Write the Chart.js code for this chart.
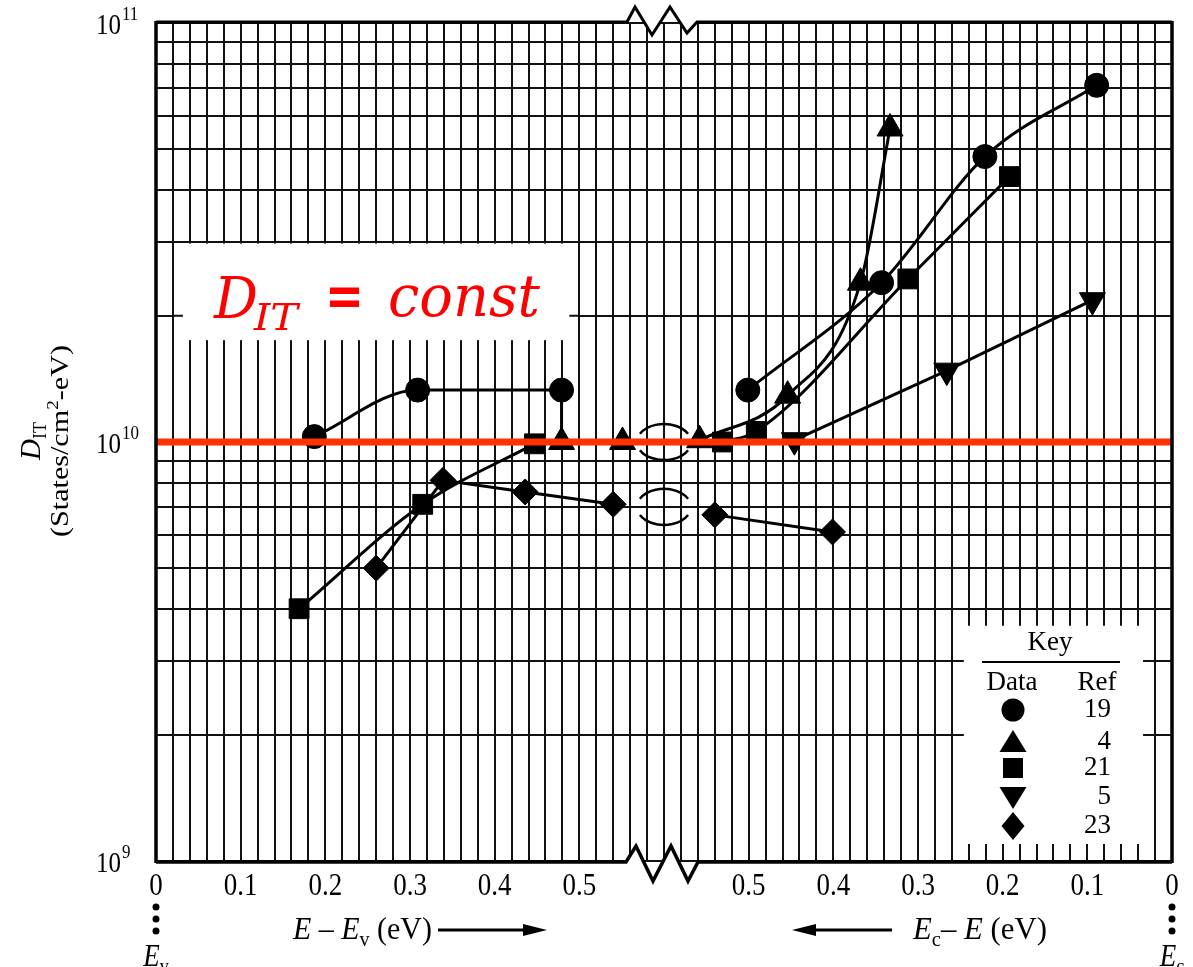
<!DOCTYPE html>
<html>
<head>
<meta charset="utf-8">
<script src="https://cdn.jsdelivr.net/npm/chart.js@4.4.0/dist/chart.umd.min.js"></script>
<style>
  html, body { margin: 0; padding: 0; background: #fff; }
  #wrap { width: 1193px; height: 967px; }
</style>
</head>
<body>
<div id="wrap"><canvas id="ditChart" width="1193" height="967"></canvas></div>
<script>
// x runs 0 -> 1.2 across the plot: left half reads E - Ev, right half reads Ec - E = 1.2 - x
const X_MAX = 1.2;

// Ref 19 (circles)
const ref19X = [0.187, 0.309, 0.479, 0.60, 0.699, 0.857, 0.979, 1.111];
const ref19Y = [1.03e10, 1.33e10, 1.33e10, null, 1.33e10, 2.4e10, 4.8e10, 7.1e10];
// Ref 4 (triangles)
const ref4X = [0.479, 0.551, 0.60, 0.642, 0.746, 0.832, 0.867];
const ref4Y = [1.0e10, 1.0e10, null, 1.01e10, 1.29e10, 2.4e10, 5.6e10];
// Ref 21 (squares)
const ref21X = [0.169, 0.315, 0.447, 0.60, 0.669, 0.709, 0.888, 1.008];
const ref21Y = [4.0e9, 7.1e9, 9.9e9, null, 1.0e10, 1.06e10, 2.45e10, 4.3e10];
// Ref 5 (down triangles)
const ref5X = [0.754, 0.934, 1.106];
const ref5Y = [1.01e10, 1.48e10, 2.18e10];
// Ref 23 (diamonds)
const ref23X = [0.260, 0.339, 0.436, 0.540, 0.60, 0.660, 0.799];
const ref23Y = [5.0e9, 8.1e9, 7.6e9, 7.1e9, null, 6.7e9, 6.1e9];
// short drop from the circle at 0.48 to the triangle below it
const dropX = [0.479, 0.479];
const dropY = [1.33e10, 1.0e10];
// D_IT = const line
const constX = [0, X_MAX];
const constY = [1e10, 1e10];

const leftTickLabels = ['0', '0.1', '0.2', '0.3', '0.4', '0.5'];
const rightTickLabels = ['0.5', '0.4', '0.3', '0.2', '0.1', '0'];
const yTickValues = [1e9, 1e10, 1e11];
const yTickExp = ['9', '10', '11'];
const keyStyles = ['circle', 'triangle', 'rect', 'triangleDown', 'rectRot'];
const keyRefs = ['19', '4', '21', '5', '23'];

const xGridValues = [];
for (let i = 0; i <= 60; i++) xGridValues.push(Math.round(i * 2) / 100);
const yGridValues = [];
[1e9, 1e10].forEach(d => { for (let k = 1; k <= 9; k++) yGridValues.push(k * d); });
yGridValues.push(1e11);

const SERIF = '"Liberation Serif", "Times New Roman", serif';
const SY = 1.15; // scanned figure is a bit taller than wide

function series(xs, ys, style, radius, extra) {
    return Object.assign({
        data: xs.map((x, i) => ({ x: x, y: ys[i] })),
        borderColor: '#000',
        backgroundColor: '#000',
        borderWidth: 3,
        pointStyle: style,
        pointRadius: radius,
        pointBorderWidth: 1,
        cubicInterpolationMode: 'monotone',
        order: 2
    }, extra || {});
}

// draws a run of text pieces, optionally squeezed to a width
function runText(ctx, parts, x, y, opts) {
    opts = opts || {};
    ctx.save();
    let w = 0;
    parts.forEach(p => { ctx.font = p.f; w += ctx.measureText(p.t).width; });
    const sx = opts.width ? opts.width / w : 1;
    ctx.translate(x, y);
    if (opts.rotate) ctx.rotate(opts.rotate);
    ctx.scale(sx, opts.sy || 1);
    let cx = opts.center ? -w / 2 : 0;
    ctx.textAlign = 'left';
    ctx.textBaseline = 'alphabetic';
    ctx.fillStyle = opts.color || '#000';
    parts.forEach(p => {
        ctx.font = p.f;
        ctx.fillText(p.t, cx, p.dy || 0);
        cx += ctx.measureText(p.t).width;
    });
    ctx.restore();
}

function txt(ctx, s, x, y, font, align, sy) {
    ctx.save();
    ctx.font = font;
    ctx.fillStyle = '#000';
    ctx.textAlign = align || 'center';
    ctx.textBaseline = 'middle';
    ctx.translate(x, y);
    ctx.scale(1, sy || 1);
    ctx.fillText(s, 0, 0);
    ctx.restore();
}

function keyMarker(ctx, style, x, y) {
    ctx.beginPath();
    if (style === 'circle') {
        ctx.arc(x, y, 11.5, 0, Math.PI * 2);
    } else if (style === 'triangle') {
        ctx.moveTo(x, y - 12); ctx.lineTo(x + 13.5, y + 10); ctx.lineTo(x - 13.5, y + 10);
    } else if (style === 'rect') {
        ctx.rect(x - 10, y - 10, 20, 20);
    } else if (style === 'triangleDown') {
        ctx.moveTo(x, y + 12); ctx.lineTo(x + 13.5, y - 10); ctx.lineTo(x - 13.5, y - 10);
    } else {
        ctx.moveTo(x, y - 14); ctx.lineTo(x + 11.5, y); ctx.lineTo(x, y + 14); ctx.lineTo(x - 11.5, y);
    }
    ctx.closePath();
    ctx.fill();
}

function arrow(ctx, x1, x2, y) {
    const dir = Math.sign(x2 - x1);
    ctx.lineWidth = 3;
    ctx.beginPath();
    ctx.moveTo(x1, y); ctx.lineTo(x2 - dir * 18, y);
    ctx.stroke();
    ctx.beginPath();
    ctx.moveTo(x2, y); ctx.lineTo(x2 - dir * 24, y - 6); ctx.lineTo(x2 - dir * 24, y + 6);
    ctx.closePath();
    ctx.fill();
}

const boxesPlugin = {
    id: 'boxes',
    beforeDatasetsDraw(chart) {
        const ctx = chart.ctx, xs = chart.scales.x, ys = chart.scales.y;
        ctx.save();
        ctx.fillStyle = '#fff';
        ctx.strokeStyle = '#111';
        ctx.lineWidth = 2;

        // blank panel behind the D_IT = const note
        let x1 = xs.getPixelForValue(0.02), x2 = xs.getPixelForValue(0.5);
        let y1 = ys.getPixelForValue(3e10), y2 = ys.getPixelForValue(1.75e10);
        ctx.fillRect(x1 + 1.5, y1 + 1.5, x2 - x1 - 3, y2 - y1 - 1.5);
        let ys2 = ys.getPixelForValue(2e10);
        ctx.beginPath();
        ctx.moveTo(x1, ys2); ctx.lineTo(x1 + 10, ys2);
        ctx.moveTo(x2 - 10, ys2); ctx.lineTo(x2, ys2);
        ctx.stroke();

        // key panel
        x1 = xs.getPixelForValue(0.94); x2 = xs.getPixelForValue(1.18);
        y1 = ys.getPixelForValue(4e9); y2 = ys.getPixelForValue(1e9);
        ctx.fillRect(x1 + 1.5, y1 + 1.5, x2 - x1 - 3, y2 - y1 - 3);
        ctx.beginPath();
        xGridValues.filter(v => v > 0.941 && v < 1.179).forEach(v => {
            const px = Math.round(xs.getPixelForValue(v));
            ctx.moveTo(px, y1); ctx.lineTo(px, y1 + 17);
            ctx.moveTo(px, y2 - 17); ctx.lineTo(px, y2);
        });
        [3e9, 2e9].forEach(v => {
            const py = Math.round(ys.getPixelForValue(v));
            ctx.moveTo(x1, py); ctx.lineTo(x1 + 12, py);
            ctx.moveTo(x2 - 12, py); ctx.lineTo(x2, py);
        });
        ctx.stroke();

        ctx.fillStyle = '#000';
        const kf = '27px ' + SERIF;
        txt(ctx, 'Key', 1050, 643, kf, 'center', 1.05);
        ctx.lineWidth = 2;
        ctx.strokeStyle = '#000';
        ctx.beginPath(); ctx.moveTo(982, 662); ctx.lineTo(1120, 662); ctx.stroke();
        txt(ctx, 'Data', 1012, 683, kf, 'center', 1.05);
        txt(ctx, 'Ref', 1097, 683, kf, 'center', 1.05);
        const keyY = [710, 742, 768, 797, 826];
        keyStyles.forEach((s, i) => {
            keyMarker(ctx, s, 1013, keyY[i]);
            txt(ctx, keyRefs[i], 1111, keyY[i], kf, 'right', 1.05);
        });

        // red note
        const red = '#ff0000';
        const it = 'italic 58px "DejaVu Serif", serif';
        runText(ctx, [{ t: 'D', f: it }], 214, 318, { width: 44, color: red });
        runText(ctx, [{ t: 'IT', f: 'italic 38px "DejaVu Serif", serif' }], 254, 330, { width: 44, color: red });
        runText(ctx, [{ t: '=', f: 'bold 58px "DejaVu Serif", serif' }], 325, 316, { width: 39, color: red });
        runText(ctx, [{ t: 'const', f: it }], 388, 316, { width: 152, color: red });
        ctx.restore();
    },
    afterDatasetsDraw(chart) {
        const ctx = chart.ctx, xs = chart.scales.x, ys = chart.scales.y;
        const a = chart.chartArea;
        ctx.save();
        ctx.strokeStyle = '#000';
        ctx.fillStyle = '#000';

        // broken-connection arcs in the gap
        ctx.lineWidth = 2.5;
        const cx = xs.getPixelForValue(0.6);
        [1.0e10, 7.0e9].forEach(v => {
            const cy = ys.getPixelForValue(v);
            ctx.beginPath();
            ctx.ellipse(cx, cy, 27, 18, 0, Math.PI * 1.15, Math.PI * 1.85);
            ctx.stroke();
            ctx.beginPath();
            ctx.ellipse(cx, cy, 27, 18, 0, Math.PI * 0.15, Math.PI * 0.85);
            ctx.stroke();
        });

        // frame with axis breaks
        const L = a.left, R = a.right, T = a.top - 1, B = a.bottom + 1;
        const topZig = [[627, T], [635, T - 15], [652, T + 13], [670, T - 15], [687, T + 11], [697, T]];
        const botZig = [[626, B], [636, B - 16], [653, B + 19], [671, B - 16], [688, B + 19], [698, B]];
        ctx.fillStyle = '#fff';
        ctx.beginPath();
        ctx.moveTo(627, 0);
        topZig.forEach(p => ctx.lineTo(p[0], p[1]));
        ctx.lineTo(697, 0);
        ctx.closePath();
        ctx.fill();
        ctx.beginPath();
        ctx.moveTo(626, B + 40);
        botZig.forEach(p => ctx.lineTo(p[0], p[1]));
        ctx.lineTo(698, B + 40);
        ctx.closePath();
        ctx.fill();

        ctx.lineJoin = 'miter';
        ctx.lineWidth = 3;
        ctx.beginPath();
        ctx.moveTo(L, T);
        topZig.forEach(p => ctx.lineTo(p[0], p[1]));
        ctx.lineTo(R, T);
        ctx.stroke();
        ctx.lineWidth = 3.5;
        ctx.beginPath();
        ctx.moveTo(L, B);
        botZig.forEach(p => ctx.lineTo(p[0], p[1]));
        ctx.lineTo(R, B);
        ctx.stroke();
        ctx.beginPath();
        ctx.moveTo(L, T - 1); ctx.lineTo(L, B + 1);
        ctx.moveTo(R, T - 1); ctx.lineTo(R, B + 1);
        ctx.stroke();

        // y tick labels 10^n
        ctx.fillStyle = '#000';
        yTickValues.forEach((v, i) => {
            const py = ys.getPixelForValue(v);
            ctx.font = '25px ' + SERIF;
            const w = ctx.measureText('10').width;
            txt(ctx, '10', 96, py + 3, '25px ' + SERIF, 'left', SY);
            txt(ctx, yTickExp[i], 97 + w, py - 8, '17px ' + SERIF, 'left', SY);
        });

        // x tick labels
        const tf = '27px ' + SERIF;
        leftTickLabels.forEach(l => txt(ctx, l, xs.getPixelForValue(parseFloat(l)), 887, tf, 'center', SY));
        rightTickLabels.forEach(l => txt(ctx, l, xs.getPixelForValue(X_MAX - parseFloat(l)), 887, tf, 'center', SY));

        // band edge markers
        [L, R].forEach(px => {
            [907, 919, 931].forEach(py => {
                ctx.beginPath(); ctx.arc(px, py, 3.5, 0, Math.PI * 2); ctx.fill();
            });
        });
        const itf = 'italic 27px ' + SERIF, rf = '27px ' + SERIF, sf = '18px ' + SERIF;
        runText(ctx, [{ t: 'E', f: itf }, { t: 'v', f: sf, dy: 6 }], L, 966, { center: true, sy: SY });
        runText(ctx, [{ t: 'E', f: itf }, { t: 'c', f: sf, dy: 6 }], R, 966, { center: true, sy: SY });

        // axis captions
        runText(ctx, [{ t: 'E', f: itf }, { t: ' \u2013 ', f: rf }, { t: 'E', f: itf }, { t: 'v', f: sf, dy: 6 }, { t: ' (eV)', f: rf }],
            293, 939, { width: 139, sy: SY });
        arrow(ctx, 438, 547, 930);
        runText(ctx, [{ t: 'E', f: itf }, { t: 'c', f: sf, dy: 6 }, { t: '\u2013 ', f: rf }, { t: 'E', f: itf }, { t: ' (eV)', f: rf }],
            913, 939, { width: 134, sy: SY });
        arrow(ctx, 892, 792, 930);

        // y axis title (rotated)
        runText(ctx, [{ t: 'D', f: 'italic 29px ' + SERIF }, { t: 'IT', f: '18px ' + SERIF, dy: 6 }],
            40, 441, { center: true, rotate: -Math.PI / 2, sy: 1 });
        runText(ctx, [{ t: '(States/cm', f: '25px ' + SERIF }, { t: '2', f: '16px ' + SERIF, dy: -10 }, { t: '-eV)', f: '25px ' + SERIF }],
            68, 441, { center: true, rotate: -Math.PI / 2, width: 192 });
        ctx.restore();
    }
};

document.addEventListener('DOMContentLoaded', () => {
    const canvas = document.getElementById('ditChart');

    const chart = new Chart(canvas.getContext('2d'), {
        type: 'line',
        data: {
            datasets: [
                series(constX, constY, 'circle', 0, { borderColor: '#ff3300', borderWidth: 7, cubicInterpolationMode: 'default', tension: 0, order: 0 }),
                series(dropX, dropY, 'circle', 0, { cubicInterpolationMode: 'default', tension: 0 }),
                series(ref19X, ref19Y, 'circle', 12),
                series(ref4X, ref4Y, 'triangle', 15),
                series(ref21X, ref21Y, 'rect', 14),
                series(ref5X, ref5Y, 'triangle', 15, { pointRotation: 180, cubicInterpolationMode: 'default', tension: 0 }),
                series(ref23X, ref23Y, 'rectRot', 13, { cubicInterpolationMode: 'default', tension: 0 })
            ]
        },
        options: {
            responsive: false,
            animation: false,
            events: [],
            layout: { padding: { top: 23, right: 21, left: 0, bottom: 0 } },
            plugins: {
                legend: { display: false },
                tooltip: { enabled: false }
            },
            scales: {
                x: {
                    type: 'linear',
                    min: 0,
                    max: X_MAX,
                    afterBuildTicks: s => { s.ticks = xGridValues.map(v => ({ value: v })); },
                    afterFit: s => { s.height = 967 - 861; },
                    grid: { color: '#111', lineWidth: 2, drawTicks: false },
                    border: { display: false },
                    ticks: { display: false }
                },
                y: {
                    type: 'logarithmic',
                    min: 1e9,
                    max: 1e11,
                    afterBuildTicks: s => { s.ticks = yGridValues.map(v => ({ value: v })); },
                    afterFit: s => { s.width = 156; },
                    grid: { color: '#111', lineWidth: 2, drawTicks: false },
                    border: { display: false },
                    ticks: { display: false }
                }
            }
        },
        plugins: [boxesPlugin]
    });
});
</script>
</body>
</html>
